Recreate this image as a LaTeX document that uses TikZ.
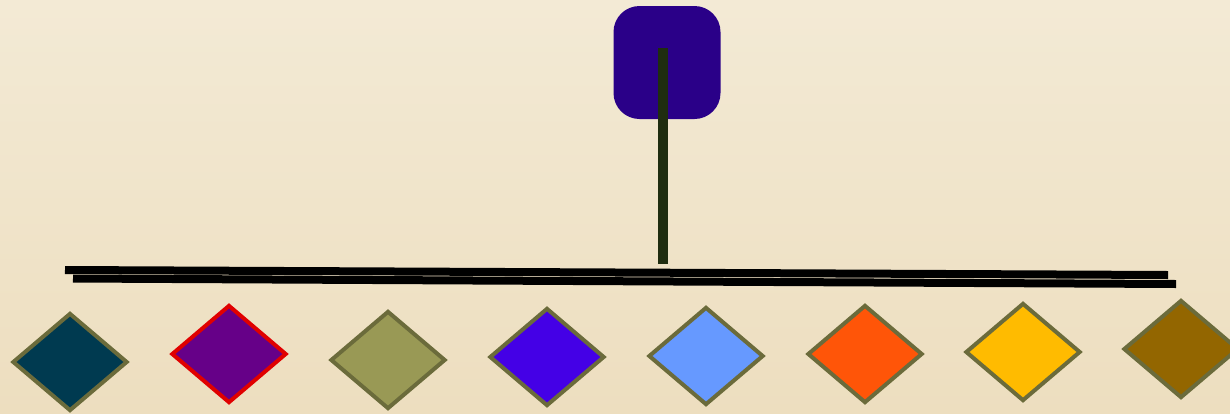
\documentclass[tikz,border=0pt]{standalone}
\usepackage{xcolor}
\usetikzlibrary{shapes.geometric}

\definecolor{papertop}{HTML}{F3EAD5}
\definecolor{paperbot}{HTML}{EDDEBF}
\definecolor{hubblue}{HTML}{2A0088}
\definecolor{stemgreen}{HTML}{1F2D10}
\definecolor{gemrim}{HTML}{6B6B3B}
\definecolor{rimred}{HTML}{E00000}
\definecolor{gemA}{HTML}{003A50}
\definecolor{gemB}{HTML}{660088}
\definecolor{gemC}{HTML}{999955}
\definecolor{gemD}{HTML}{4400E6}
\definecolor{gemE}{HTML}{6699FF}
\definecolor{gemF}{HTML}{FF5508}
\definecolor{gemG}{HTML}{FFBB00}
\definecolor{gemH}{HTML}{936600}

\begin{document}
\begin{tikzpicture}[x=0.5pt,y=-0.5pt,
    gem/.style={diamond,line width=2pt,minimum width=57.5pt,minimum height=49pt,inner sep=0pt}]
    \shade[top color=papertop,bottom color=paperbot] (0,0) rectangle (1230,413);
    \useasboundingbox (0,0) rectangle (1230,413);
    \node[fill=hubblue,rounded corners=13pt,minimum width=53.5pt,minimum height=56.5pt,inner sep=0pt] (hub) at (667,62.5) {};
    \coordinate (stemtop) at (663,48);
    \coordinate (stembot) at (663,264);
    \draw[stemgreen,line width=5pt] (stemtop) -- (stembot);
    \draw[black,line width=4pt] (65,270) -- (1168,275);
    \draw[black,line width=4pt] (73,278.5) -- (1176,284);
    \foreach \cx/\cy/\col/\rim/\nm in {70/362/gemA/gemrim/g1,229/354/gemB/rimred/g2,388/360/gemC/gemrim/g3,547/357/gemD/gemrim/g4,706/356/gemE/gemrim/g5,865/354/gemF/gemrim/g6,1023/352/gemG/gemrim/g7,1181/349/gemH/gemrim/g8}
        {\node[gem,fill=\col,draw=\rim] (\nm) at (\cx,\cy) {};}
\end{tikzpicture}
\end{document}
